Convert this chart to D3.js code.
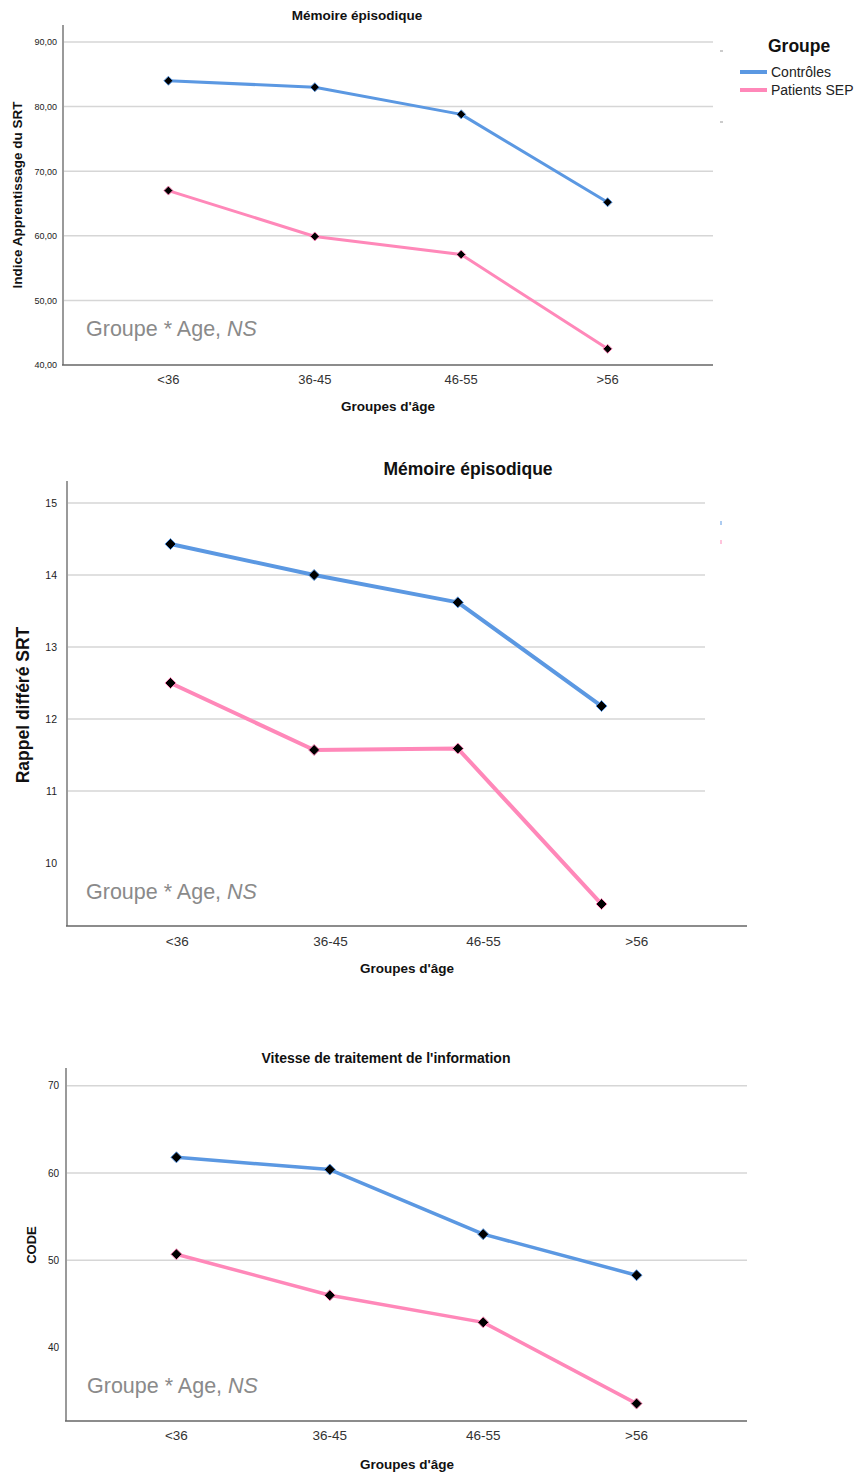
<!DOCTYPE html>
<html>
<head>
<meta charset="utf-8">
<script src="https://cdn.jsdelivr.net/npm/d3@7"></script>
<style>
  html, body { margin: 0; padding: 0; background: #fff; }
  svg { display: block; font-family: "Liberation Sans", Arial, sans-serif; }
</style>
</head>
<body>
<svg id="chart" width="860" height="1472"></svg>
<script>
// Age groups shared by the three profile plots
const ageGroups = ["<36", "36-45", "46-55", ">56"];
const groupNames = ["Contrôles", "Patients SEP"];

// Indice Apprentissage du SRT (means by group)
const srtLearnControls = [84.0, 83.0, 78.8, 65.2];
const srtLearnPatients = [67.0, 59.9, 57.1, 42.5];
const srtLearnTicks = [40, 50, 60, 70, 80, 90];

// Rappel différé SRT
const srtDelayControls = [14.43, 14.0, 13.62, 12.18];
const srtDelayPatients = [12.50, 11.57, 11.59, 9.43];
const srtDelayTicks = [10, 11, 12, 13, 14, 15];

// CODE (vitesse de traitement)
const codeControls = [61.8, 60.4, 53.0, 48.3];
const codePatients = [50.7, 46.0, 42.9, 33.6];
const codeTicks = [40, 50, 60, 70];

const BLUE = "#5b98e2";
const PINK = "#ff88b9";
const frNum = d3.formatLocale({ decimal: ",", thousands: " ", grouping: [3], currency: ["", " €"] });

const svg = d3.select("#chart");

function drawPanel(cfg) {
  const g = svg.append("g");
  const y = d3.scaleLinear().domain(cfg.yDomain).range([cfg.yAt0, cfg.yAt1]);
  // points sit inside the gridline extent, tick labels along the full x axis
  const xPts = d3.scalePoint().domain(ageGroups).range([cfg.left, cfg.plotRight]).padding(0.72);
  const xLab = d3.scalePoint().domain(ageGroups).range([cfg.left, cfg.axisRight]).padding(0.72);

  // horizontal gridlines
  g.append("g").selectAll("line").data(cfg.ticks.filter(t => t !== cfg.yDomain[0]))
    .join("line")
    .attr("x1", cfg.left).attr("x2", cfg.plotRight)
    .attr("y1", d => y(d)).attr("y2", d => y(d))
    .attr("stroke", "#d6d6d6").attr("stroke-width", 1.5);

  // y axis via d3.axisLeft, domain path replaced by custom line
  const yAxis = g.append("g").attr("transform", `translate(${cfg.left},0)`)
    .call(d3.axisLeft(y).tickValues(cfg.ticks).tickSize(0).tickPadding(cfg.yTickPad)
      .tickFormat(cfg.tickFormat));
  yAxis.select(".domain").remove();
  yAxis.selectAll("text").attr("font-size", cfg.yTickSize).attr("fill", "#222")
    .attr("font-family", "Liberation Sans, Arial, sans-serif");

  g.append("line").attr("x1", cfg.left).attr("x2", cfg.left)
    .attr("y1", cfg.top).attr("y2", cfg.bottom)
    .attr("stroke", "#9a9a9a").attr("stroke-width", 2);

  // x axis
  g.append("line").attr("x1", cfg.left - 1).attr("x2", cfg.axisRight)
    .attr("y1", cfg.bottom).attr("y2", cfg.bottom)
    .attr("stroke", "#666").attr("stroke-width", 1.5);
  g.append("g").selectAll("text").data(ageGroups).join("text")
    .attr("x", d => xLab(d)).attr("y", cfg.bottom + cfg.xTickDy)
    .attr("text-anchor", "middle").attr("font-size", cfg.xTickSize).attr("fill", "#333")
    .text(d => d);

  // lines and markers
  const line = d3.line().x((d, i) => xPts(ageGroups[i])).y(d => y(d));
  const series = [
    { values: cfg.controls, color: BLUE },
    { values: cfg.patients, color: PINK }
  ];
  series.forEach(s => {
    g.append("path").datum(s.values).attr("d", line)
      .attr("fill", "none").attr("stroke", s.color)
      .attr("stroke-width", cfg.lineWidth).attr("stroke-linejoin", "round");
  });
  series.forEach(s => {
    const r = cfg.marker;
    g.append("g").selectAll("path").data(s.values).join("path")
      .attr("d", (d, i) => {
        const cx = xPts(ageGroups[i]), cy = y(d);
        return `M${cx},${cy - r}L${cx + r},${cy}L${cx},${cy + r}L${cx - r},${cy}Z`;
      })
      .attr("fill", "#000").attr("stroke", s.color).attr("stroke-width", 1);
  });

  // titles
  g.append("text").attr("x", cfg.titleX).attr("y", cfg.titleY)
    .attr("text-anchor", "middle").attr("font-weight", "bold")
    .attr("font-size", cfg.titleSize).attr("fill", "#111").text(cfg.title);
  g.append("text")
    .attr("transform", `translate(${cfg.yLabelX},${cfg.yLabelY}) rotate(-90)`)
    .attr("text-anchor", "middle").attr("font-weight", "bold")
    .attr("font-size", cfg.yLabelSize).attr("fill", "#111").text(cfg.yLabel);
  g.append("text").attr("x", cfg.xLabelX).attr("y", cfg.xLabelY)
    .attr("text-anchor", "middle").attr("font-weight", "bold")
    .attr("font-size", 13.5).attr("fill", "#111").text("Groupes d'âge");

  // interaction note
  const note = g.append("text").attr("x", cfg.noteX).attr("y", cfg.noteY)
    .attr("font-size", 21.5).attr("fill", "#8a8a8a");
  note.append("tspan").text("Groupe * Age, ");
  note.append("tspan").attr("font-style", "italic").text("NS");

  return g;
}

drawPanel({
  title: "Mémoire épisodique", titleX: 357, titleY: 20, titleSize: 13.5,
  yLabel: "Indice Apprentissage du SRT", yLabelX: 22, yLabelY: 195, yLabelSize: 13.5,
  xLabelX: 388, xLabelY: 411,
  controls: srtLearnControls, patients: srtLearnPatients,
  ticks: srtLearnTicks, yDomain: [40, 90], yAt0: 365, yAt1: 42,
  tickFormat: frNum.format(".2f"), yTickSize: 9, yTickPad: 6,
  left: 63, plotRight: 713, axisRight: 713, top: 25, bottom: 365,
  xTickSize: 13, xTickDy: 19, lineWidth: 3, marker: 4.5,
  noteX: 86, noteY: 336
});

drawPanel({
  title: "Mémoire épisodique", titleX: 468, titleY: 475, titleSize: 17.5,
  yLabel: "Rappel différé SRT", yLabelX: 29, yLabelY: 705, yLabelSize: 17.5,
  xLabelX: 407, xLabelY: 973,
  controls: srtDelayControls, patients: srtDelayPatients,
  ticks: srtDelayTicks, yDomain: [10, 15], yAt0: 863, yAt1: 503,
  tickFormat: d3.format("d"), yTickSize: 10.5, yTickPad: 10,
  left: 67, plotRight: 705, axisRight: 747, top: 481, bottom: 926,
  xTickSize: 13.5, xTickDy: 20, lineWidth: 4, marker: 5.5,
  noteX: 86, noteY: 899
});

drawPanel({
  title: "Vitesse de traitement de l'information", titleX: 386, titleY: 1063, titleSize: 14,
  yLabel: "CODE", yLabelX: 36, yLabelY: 1245, yLabelSize: 13,
  xLabelX: 407, xLabelY: 1469,
  controls: codeControls, patients: codePatients,
  ticks: codeTicks, yDomain: [40, 70], yAt0: 1347.7, yAt1: 1085.7,
  tickFormat: d3.format("d"), yTickSize: 10, yTickPad: 7,
  left: 66, plotRight: 747, axisRight: 747, top: 1068, bottom: 1421,
  xTickSize: 13.5, xTickDy: 19, lineWidth: 3.5, marker: 5.5,
  noteX: 87, noteY: 1393
});

// legend of the first plot
const legend = svg.append("g");
legend.append("text").attr("x", 768).attr("y", 52).attr("font-weight", "bold")
  .attr("font-size", 17.5).attr("fill", "#111").text("Groupe");
[BLUE, PINK].forEach((c, i) => {
  legend.append("line").attr("x1", 740).attr("x2", 767)
    .attr("y1", 72 + i * 18).attr("y2", 72 + i * 18)
    .attr("stroke", c).attr("stroke-width", 4);
  legend.append("text").attr("x", 771).attr("y", 77 + i * 18)
    .attr("font-size", 14).attr("fill", "#222").text(groupNames[i]);
});
// small leftover legend marks beside the plots
[[720, 51, "#bbb"], [720, 122, "#bbb"]].forEach(([x, yy, c]) => {
  svg.append("line").attr("x1", x).attr("x2", x + 3).attr("y1", yy).attr("y2", yy)
    .attr("stroke", c).attr("stroke-width", 1.5);
});
[[721, 523, BLUE], [721, 542, PINK]].forEach(([x, yy, c]) => {
  svg.append("line").attr("x1", x).attr("x2", x).attr("y1", yy - 2).attr("y2", yy + 2)
    .attr("stroke", c).attr("stroke-width", 1);
});
</script>
</body>
</html>
